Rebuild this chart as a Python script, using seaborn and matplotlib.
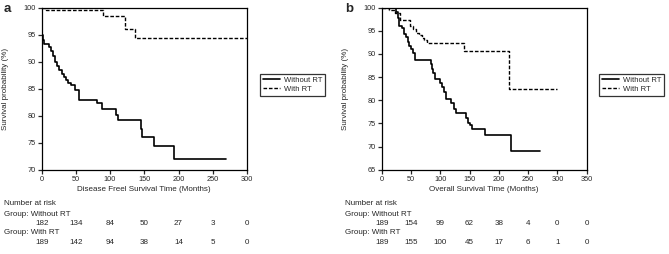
import numpy as np
import pandas as pd
import matplotlib
matplotlib.use('Agg')
import matplotlib.pyplot as plt
import matplotlib.transforms as mtransforms
import seaborn as sns

# --- panel a: disease free survival (step points: time, survival %) ---
dfs_without_t = [0, 0.5, 1, 2, 4, 10, 14, 17, 19, 20, 23, 25, 29, 32, 35, 39, 43, 48,
                 55, 81, 88, 109, 111, 145, 146, 164, 193, 270]
dfs_without_s = [100, 96.5, 95.0, 94.0, 93.2, 92.8, 92.0, 91.0, 90.4, 89.9, 89.1, 88.5,
                 87.8, 87.2, 86.6, 86.1, 85.6, 84.8, 82.9, 82.3, 81.3, 80.2, 79.2, 77.6,
                 76.0, 74.3, 72.0, 72.0]
dfs_with_t = [0, 7, 90, 122, 136, 300]
dfs_with_s = [100, 99.6, 98.5, 96.0, 94.3, 94.3]

# --- panel b: overall survival ---
os_without_t = [0, 24, 27, 30, 35, 38, 41, 44, 47, 50, 53, 57, 84, 86, 88, 91, 100, 103,
                106, 109, 111, 119, 123, 127, 144, 147, 150, 154, 176, 221, 271]
os_without_s = [100, 99.0, 97.8, 96.1, 95.5, 94.3, 93.6, 92.5, 91.8, 91.0, 90.2, 88.7,
                87.9, 86.8, 85.8, 84.6, 83.8, 82.9, 81.8, 80.2, 80.2, 79.3, 78.2, 77.3,
                76.1, 75.0, 74.6, 73.8, 72.4, 69.0, 69.0]
os_with_t = [0, 12, 22, 31, 49, 54, 58, 63, 68, 73, 78, 140, 217, 300]
os_with_s = [100, 99.5, 98.9, 97.3, 96.0, 95.3, 94.6, 94.0, 93.4, 92.9, 92.3, 90.7,
             82.5, 82.5]

# --- number at risk ---
dfs_risk_times = [0, 50, 100, 150, 200, 250, 300]
dfs_risk_without = [182, 134, 84, 50, 27, 3, 0]
dfs_risk_with = [189, 142, 94, 38, 14, 5, 0]
os_risk_times = [0, 50, 100, 150, 200, 250, 300, 350]
os_risk_without = [189, 154, 99, 62, 38, 4, 0, 0]
os_risk_with = [189, 155, 100, 45, 17, 6, 1, 0]

sns.set_style('ticks')
plt.rcParams['font.family'] = ['Liberation Sans', 'DejaVu Sans']

fig = plt.figure(figsize=(6.69, 2.54), dpi=100)
ax_a = fig.add_axes([0.0623, 0.332, 0.3068, 0.638])
ax_b = fig.add_axes([0.5706, 0.332, 0.3064, 0.638])

panels = [
    (ax_a, 'a', dfs_without_t, dfs_without_s, dfs_with_t, dfs_with_s,
     (0, 300), np.arange(0, 301, 50), (70, 100), np.arange(70, 101, 5),
     'Disease Freel Survival Time (Months)',
     dfs_risk_times, dfs_risk_without, dfs_risk_with, 0.383, 0.006),
    (ax_b, 'b', os_without_t, os_without_s, os_with_t, os_with_s,
     (0, 350), np.arange(0, 351, 50), (65, 100), np.arange(65, 101, 5),
     'Overall Survival Time (Months)',
     os_risk_times, os_risk_without, os_risk_with, 0.890, 0.516),
]

for (ax, letter, wt, ws, rt, rs, xlim, xticks, ylim, yticks, xlabel,
     risk_t, risk_wo, risk_w, leg_x, text_x) in panels:
    sns.lineplot(x=wt, y=ws, ax=ax, color='black', linewidth=1.2,
                 drawstyle='steps-post', estimator=None, label='Without RT')
    sns.lineplot(x=rt, y=rs, ax=ax, color='black', linewidth=1.0,
                 drawstyle='steps-post', estimator=None, label='With RT',
                 linestyle=(0, (2.6, 1.3)))

    ax.set_xlim(*xlim)
    ax.set_ylim(*ylim)
    ax.set_xticks(xticks)
    ax.set_yticks(yticks)
    ax.tick_params(labelsize=5.3, length=3, width=0.9, pad=1.5)
    for sp in ax.spines.values():
        sp.set_visible(True)
        sp.set_linewidth(0.9)
        sp.set_color('black')
    ax.set_xlabel(xlabel, fontsize=5.8, labelpad=2.5)
    ax.set_ylabel('Survival probability (%)', fontsize=5.8)
    ax.yaxis.set_label_coords(-0.16, 0.5)

    leg = ax.legend(loc='center left', bbox_to_anchor=(leg_x, 0.667),
                    bbox_transform=fig.transFigure, fontsize=5.5, frameon=True,
                    fancybox=False, edgecolor='black', handlelength=2.2,
                    handletextpad=0.6, borderpad=0.35, labelspacing=0.25)
    leg.get_frame().set_linewidth(0.9)

    # panel letter
    fig.text(text_x, 0.965, letter, fontsize=9.5, fontweight='bold',
             ha='left', va='center')

    # number at risk table
    fig.text(text_x, 0.197, 'Number at risk', fontsize=5.8, va='center')
    fig.text(text_x, 0.157, 'Group: Without RT', fontsize=5.8, va='center')
    fig.text(text_x, 0.083, 'Group: With RT', fontsize=5.8, va='center')
    trans = mtransforms.blended_transform_factory(ax.transData, fig.transFigure)
    for t, n in zip(risk_t, risk_wo):
        ax.text(t, 0.121, str(n), transform=trans, fontsize=5.8,
                ha='center', va='center', clip_on=False)
    for t, n in zip(risk_t, risk_w):
        ax.text(t, 0.044, str(n), transform=trans, fontsize=5.8,
                ha='center', va='center', clip_on=False)

fig.savefig('out.png', dpi=100)
